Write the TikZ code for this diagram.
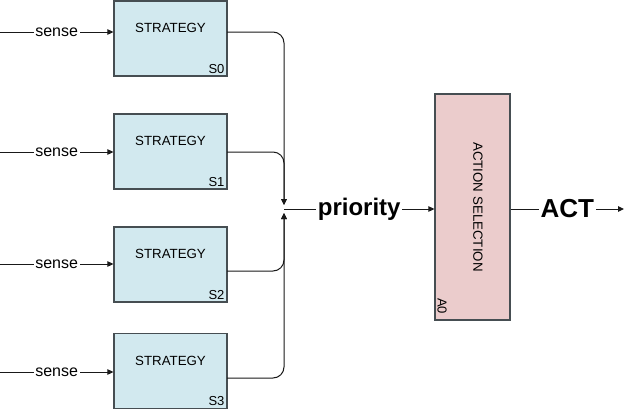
\documentclass[tikz,border=0pt]{standalone}
\usepackage{fontspec}
\setmainfont{Liberation Sans}
\usetikzlibrary{arrows.meta}
\definecolor{stratfill}{RGB}{210,233,239}
\definecolor{actfill}{RGB}{235,204,204}
\definecolor{boxline}{RGB}{70,78,82}
\tikzset{
  stratbox/.style={draw=boxline, line width=1.2pt, fill=stratfill, minimum width=113pt, minimum height=75pt, inner sep=0pt,
    label={[anchor=center, yshift=-28pt, font=\fontsize{13.3}{15}\selectfont]north:STRATEGY},
    label={[anchor=south east, inner sep=3pt, font=\fontsize{13}{15}\selectfont]south east:#1}},
  actbox/.style={draw=boxline, line width=1.2pt, fill=actfill, minimum width=75pt, minimum height=226pt, inner sep=0pt},
  wire/.style={line width=1pt, draw=black!90},
  arr/.style={wire, -{Triangle[length=6pt,width=5.5pt]}},
  onwire/.style={fill=white, inner sep=1.5pt}
}
\begin{document}
\begin{tikzpicture}[x=1pt, y=-1pt]
    \useasboundingbox (0, 0) rectangle (624, 410);

    \node [stratbox=S0] (s0) at (170.5, 38.5) {};
    \node [stratbox=S1] (s1) at (170.5, 151.5) {};
    \node [stratbox=S2] (s2) at (170.5, 264.5) {};
    \node [stratbox=S3] (s3) at (170.5, 371) {};
    \node [actbox] (asel) at (472.5, 207) {};
    \node [rotate=-90, font=\fontsize{13.3}{15}\selectfont] (atext) at (478, 207) {ACTION SELECTION};
    \node [rotate=-90, font=\fontsize{13}{15}\selectfont] (a0) at (442, 306) {A0};

    \coordinate (in0) at (0, 32);
    \coordinate (in1) at (0, 152);
    \coordinate (in2) at (0, 264);
    \coordinate (in3) at (0, 372);
    \coordinate (o0) at (227, 32);
    \coordinate (o1) at (227, 152);
    \coordinate (o2) at (227, 271);
    \coordinate (o3) at (227, 378);
    \coordinate (mt) at (284, 205);
    \coordinate (mb) at (284, 213);
    \coordinate (m) at (284, 209);
    \coordinate (act) at (624, 209);

    \draw [arr] (in0) to node [onwire, font=\fontsize{16}{18}\selectfont] {sense} (in0 -| s0.west);
    \draw [arr] (in1) to node [onwire, font=\fontsize{16}{18}\selectfont] {sense} (in1 -| s1.west);
    \draw [arr] (in2) to node [onwire, font=\fontsize{16}{18}\selectfont] {sense} (in2 -| s2.west);
    \draw [arr] (in3) to node [onwire, font=\fontsize{16}{18}\selectfont] {sense} (in3 -| s3.west);

    \draw [arr, rounded corners=11pt] (o0) -| (mt);
    \draw [arr, rounded corners=11pt] (o1) -| (mt);
    \draw [arr, rounded corners=11pt] (o2) -| (mb);
    \draw [arr, rounded corners=11pt] (o3) -| (mb);

    \draw [arr] (m) to node [onwire, font=\fontsize{24}{26}\bfseries] {priority} (asel.west |- m);
    \draw [arr] (asel.east |- m) to node [onwire, font=\fontsize{26}{28}\bfseries] {ACT} (act);

  \end{tikzpicture}
\end{document}
